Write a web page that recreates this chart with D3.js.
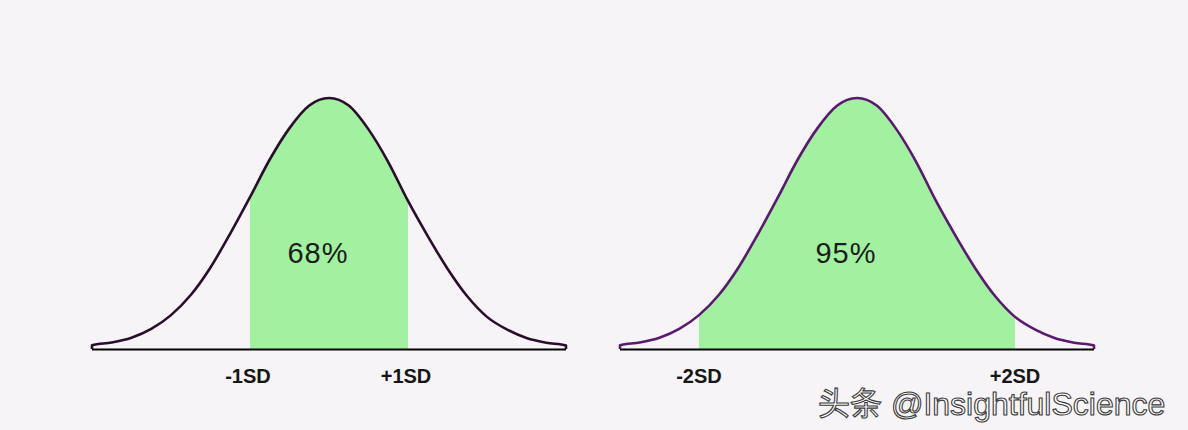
<!DOCTYPE html>
<html>
<head>
<meta charset="utf-8">
<script src="https://cdn.jsdelivr.net/npm/d3@7"></script>
<style>
  html, body { margin: 0; padding: 0; background: #f6f4f7; }
  svg { display: block; }
</style>
</head>
<body>
<script>
// curve heights, peak = 1, x in SD units
const sdSteps = [-3, -2.75, -2.5, -2.25, -2, -1.75, -1.5, -1.25, -1, -0.75, -0.5, -0.25, 0,
                 0.25, 0.5, 0.75, 1, 1.25, 1.5, 1.75, 2, 2.25, 2.5, 2.75, 3];
const heights = [0.015, 0.026, 0.045, 0.08, 0.135, 0.215, 0.325, 0.46, 0.605, 0.755, 0.88, 0.97, 1,
                 0.97, 0.875, 0.745, 0.59, 0.45, 0.32, 0.21, 0.128, 0.078, 0.044, 0.025, 0.014];

const panels = [
  {band: 1, pct: "68%", labels: ["-1SD", "+1SD"], line: "#2a0d2c", x0: 92, x1: 566},
  {band: 2, pct: "95%", labels: ["-2SD", "+2SD"], line: "#5b1870", x0: 620, x1: 1094}
];

const width = 1188, height = 430;
const svg = d3.select("body").append("svg")
  .attr("width", width).attr("height", height);

svg.append("rect").attr("width", width).attr("height", height).attr("fill", "#f6f4f7");

const y = d3.scaleLinear().domain([0, 1]).range([349, 98]);
const pts = sdSteps.map((s, i) => ({s, h: heights[i]}));

panels.forEach(p => {
  const x = d3.scaleLinear().domain([-3, 3]).range([p.x0, p.x1]);
  const g = svg.append("g");

  const area = d3.area()
    .x(d => x(d.s)).y0(y(0)).y1(d => y(d.h))
    .curve(d3.curveMonotoneX);
  g.append("path")
    .datum(pts.filter(d => Math.abs(d.s) <= p.band))
    .attr("d", area)
    .attr("fill", "#a2f1a0");

  // baseline
  g.append("line")
    .attr("x1", x(-3)).attr("x2", x(3))
    .attr("y1", y(0) + 0.5).attr("y2", y(0) + 0.5)
    .attr("stroke", "#000").attr("stroke-width", 2);

  const line = d3.line()
    .x(d => x(d.s)).y(d => y(d.h))
    .curve(d3.curveMonotoneX);
  const full = [{s: -3, h: 0}].concat(pts, [{s: 3, h: 0}]);
  g.append("path")
    .datum(full)
    .attr("d", line)
    .attr("fill", "none")
    .attr("stroke", p.line)
    .attr("stroke-width", 2.6)
    .attr("stroke-linejoin", "round");

  g.append("text")
    .attr("x", x(0) - 11).attr("y", 263)
    .attr("text-anchor", "middle")
    .attr("font-family", "Liberation Sans, Arial, sans-serif")
    .attr("font-size", 29)
    .attr("letter-spacing", 1)
    .attr("fill", "#1c1c1c")
    .text(p.pct);

  [-p.band, p.band].forEach((s, i) => {
    g.append("text")
      .attr("x", x(s) - (p.band === 1 ? 2 : 0))
      .attr("y", 383)
      .attr("text-anchor", "middle")
      .attr("font-family", "Liberation Sans, Arial, sans-serif")
      .attr("font-weight", "bold")
      .attr("font-size", 20)
      .attr("fill", "#161616")
      .text(p.labels[i]);
  });
});

// watermark
svg.append("text")
  .attr("x", 818).attr("y", 415)
  .attr("font-family", "Liberation Sans, 'Noto Sans CJK SC', sans-serif")
  .attr("font-size", 32)
  .attr("fill", "#ffffff")
  .attr("stroke", "#3a3a3a")
  .attr("stroke-width", 1.1)
  .text("头条 @InsightfulScience");
</script>
</body>
</html>
